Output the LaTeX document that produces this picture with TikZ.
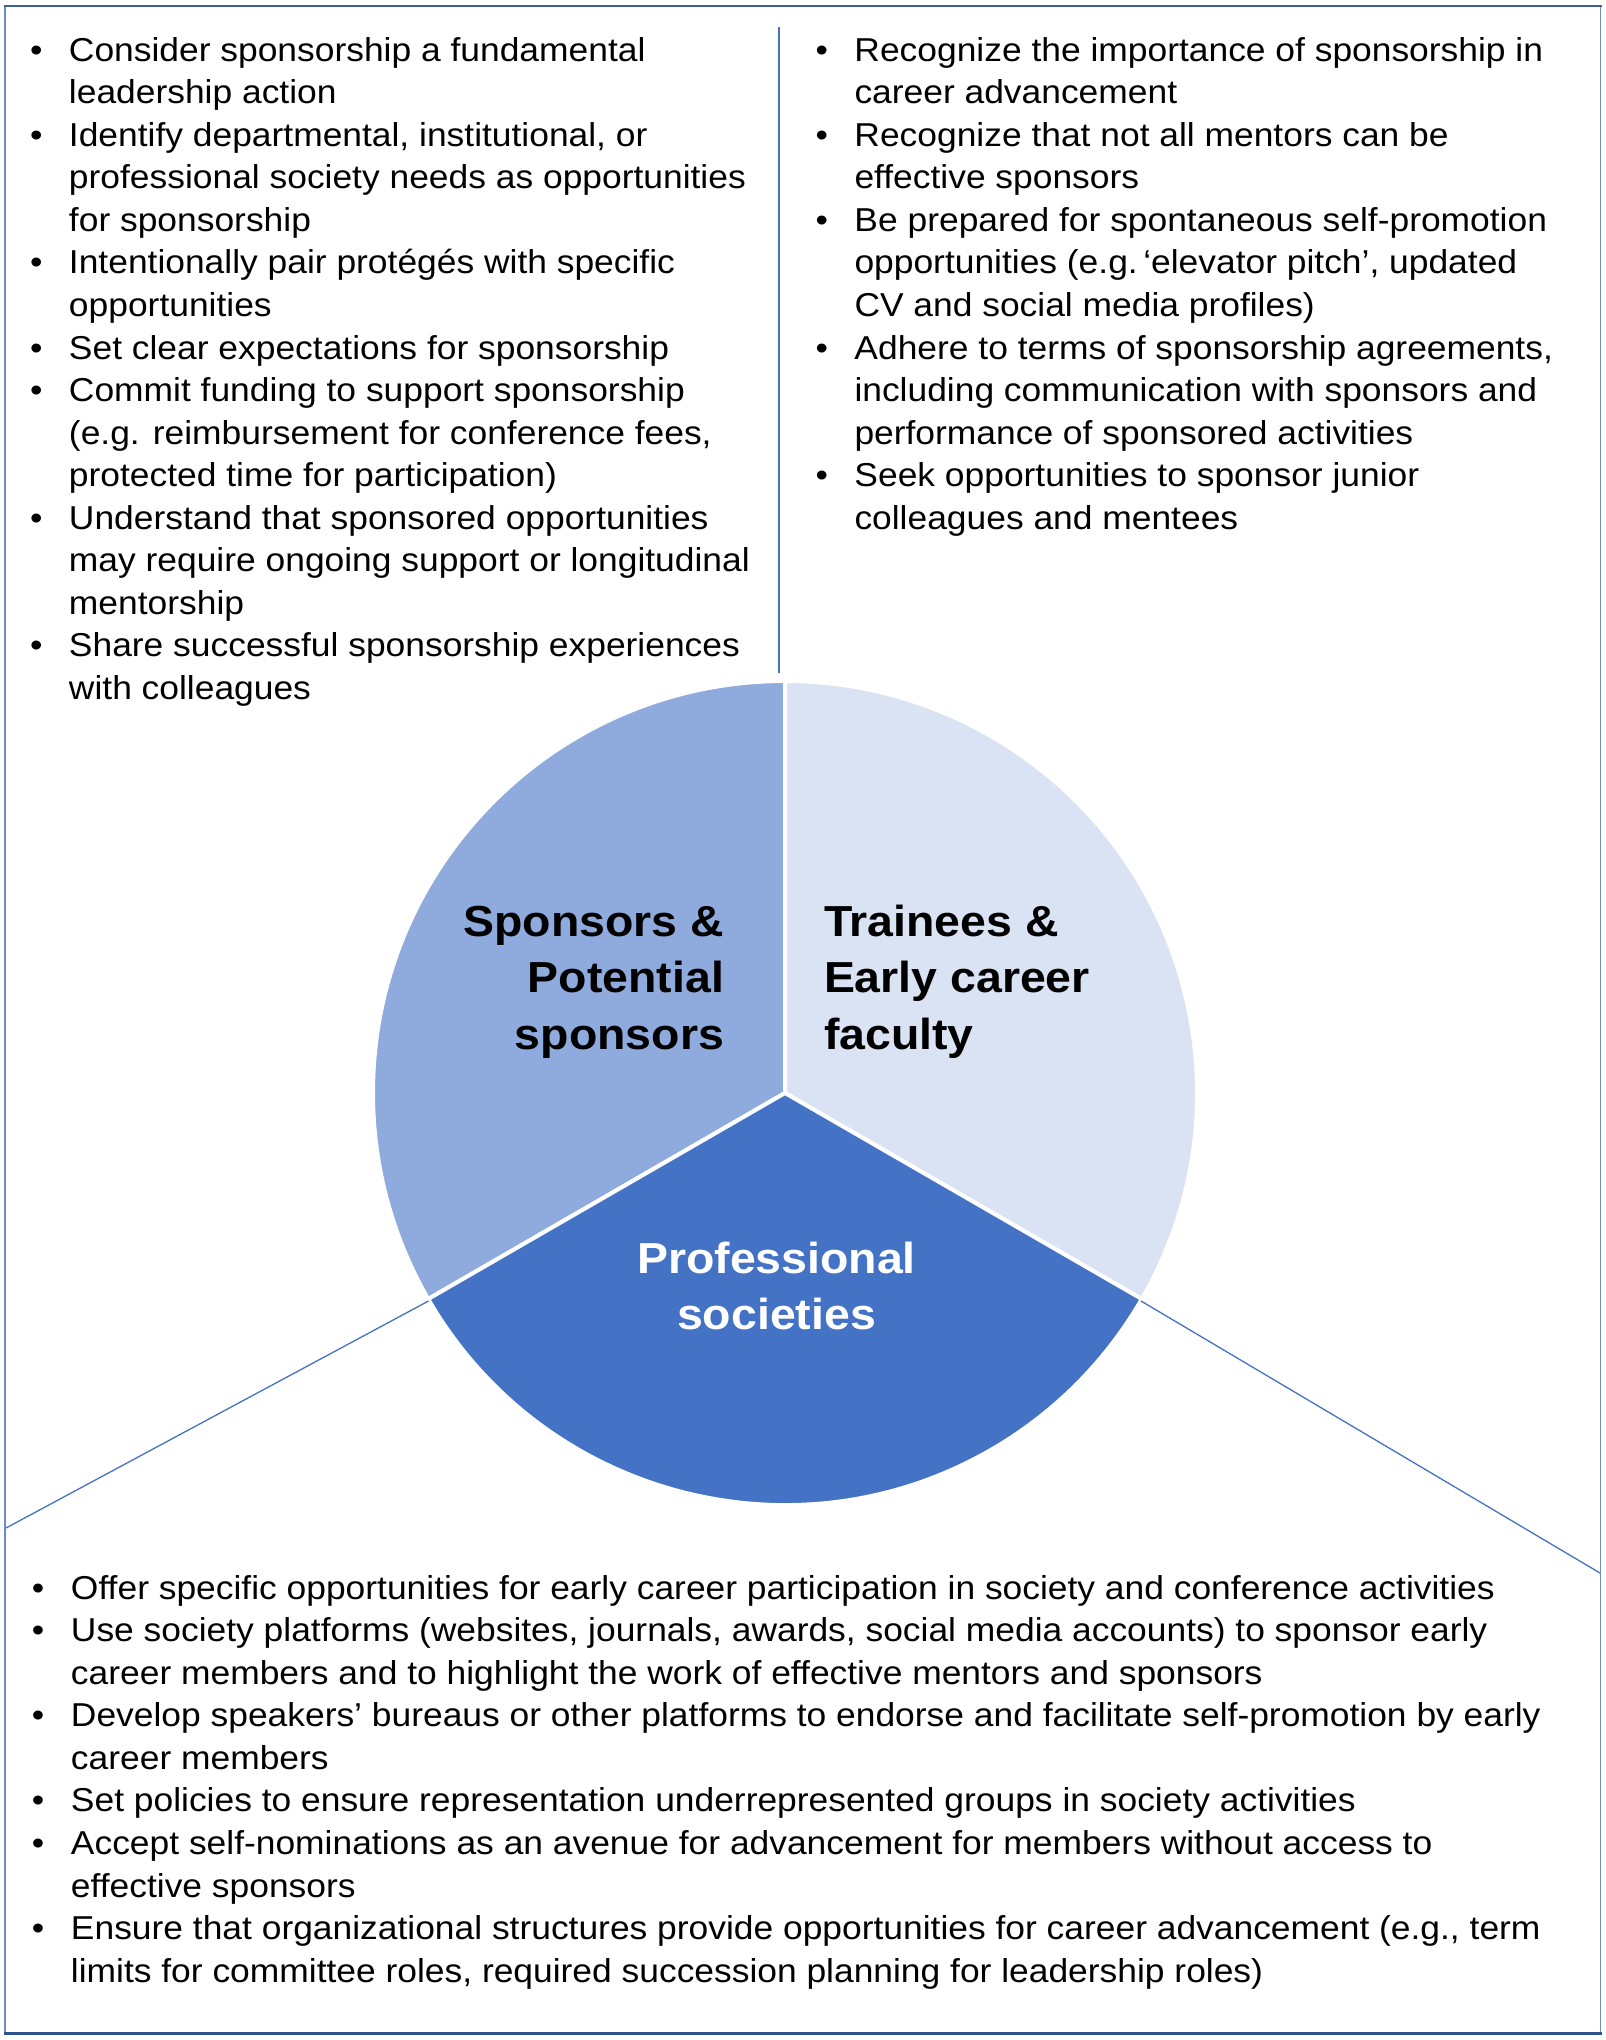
\documentclass[tikz,border=0pt]{standalone}
\usepackage{fontspec}
\setmainfont[FakeStretch=1.07]{Liberation Sans}
\definecolor{pieA}{HTML}{8FAADC}
\definecolor{pieB}{HTML}{DAE3F3}
\definecolor{pieC}{HTML}{4472C4}
\definecolor{lineblue}{HTML}{4472C4}
\definecolor{frameTop}{HTML}{3E5E9E}
\definecolor{frameSide}{HTML}{6C8CC8}
\definecolor{frameBot}{HTML}{2F528F}
\newcommand{\mybl}{\strut\makebox[19.5pt][l]{\textbullet}}
\newcommand{\myind}{\strut\makebox[19.5pt][l]{}}
\begin{document}
\begin{tikzpicture}[x=0.5pt,y=-0.5pt,
  txt/.style={anchor=north west, inner sep=0pt, outer sep=0pt, align=left,
    font=\fontsize{16.54}{21.26}\selectfont},
  lbl/.style={inner sep=0pt, outer sep=0pt, font=\fontsize{21.7}{28.3}\selectfont\bfseries},
  conn/.style={draw=lineblue, line width=0.65pt},
  slice/.style={draw=white, line width=2pt, line join=round}]
\useasboundingbox (0,0) rectangle (1606,2040);
\fill[white] (0,0) rectangle (1606,2040);

% pie
\coordinate (C) at (785,1093);
\filldraw[slice, fill=pieA] (C) -- ++(-90:412) arc[start angle=-90, end angle=-210, radius=412] -- cycle;
\filldraw[slice, fill=pieB] (C) -- ++(30:412) arc[start angle=30, end angle=-90, radius=412] -- cycle;
\filldraw[slice, fill=pieC] (C) -- ++(-210:412) arc[start angle=-210, end angle=-330, radius=412] -- cycle;

% connector lines
\coordinate (vt) at (779,27);
\coordinate (vb) at (779,673);
\coordinate (dl0) at (428.5,1301);
\coordinate (dl1) at (6,1528);
\coordinate (dr0) at (1141,1301);
\coordinate (dr1) at (1600,1573);
\draw[conn] (vt) -- (vb);
\draw[conn] (dl0) -- (dl1);
\draw[conn] (dr0) -- (dr1);

% frame
\draw[frameSide, line width=0.8pt] (5,5) -- (5,2034);
\draw[frameSide, line width=0.8pt] (1600.5,5) -- (1600.5,2034);
\draw[frameTop, line width=1pt] (4,5.5) -- (1601.5,5.5);
\draw[frameBot, line width=1.5pt] (4,2033) -- (1601.5,2033);

% pie labels
\node[lbl, anchor=north east, align=right] (spons) at (724,896.4)
  {\strut Sponsors \&\\\strut Potential\\\strut sponsors};
\node[lbl, anchor=north west, align=left] (train) at (824,896.4)
  {\strut Trainees \&\\\strut Early career\\\strut faculty};
\node[lbl, anchor=north, align=center, text=white] (prof) at (776.5,1233.4)
  {\strut Professional\\\strut societies};

% left column
\node[txt] (Ltxt) at (30,31.6) {%
\mybl Consider sponsorship a fundamental\\
\myind leadership action\\
\mybl Identify departmental, institutional, or\\
\myind professional society needs as opportunities\\
\myind for sponsorship\\
\mybl Intentionally pair protégés with specific\\
\myind opportunities\\
\mybl Set clear expectations for sponsorship\\
\mybl Commit funding to support sponsorship\\
\myind (e.g. reimbursement for conference fees,\\
\myind protected time for participation)\\
\mybl Understand that sponsored opportunities\\
\myind may require ongoing support or longitudinal\\
\myind mentorship\\
\mybl Share successful sponsorship experiences\\
\myind with colleagues};

% right column
\node[txt] (Rtxt) at (815.5,31.6) {%
\mybl Recognize the importance of sponsorship in\\
\myind career advancement\\
\mybl Recognize that not all mentors can be\\
\myind effective sponsors\\
\mybl Be prepared for spontaneous self-promotion\\
\myind opportunities (e.g.\,‘elevator pitch’, updated\\
\myind CV and social media profiles)\\
\mybl Adhere to terms of sponsorship agreements,\\
\myind including communication with sponsors and\\
\myind performance of sponsored activities\\
\mybl Seek opportunities to sponsor junior\\
\myind colleagues and mentees};

% bottom block
\node[txt] (Btxt) at (32,1569.6) {%
\mybl Offer specific opportunities for early career participation in society and conference activities\\
\mybl Use society platforms (websites, journals, awards, social media accounts) to sponsor early\\
\myind career members and to highlight the work of effective mentors and sponsors\\
\mybl Develop speakers’ bureaus or other platforms to endorse and facilitate self-promotion by early\\
\myind career members\\
\mybl Set policies to ensure representation underrepresented groups in society activities\\
\mybl Accept self-nominations as an avenue for advancement for members without access to\\
\myind effective sponsors\\
\mybl Ensure that organizational structures provide opportunities for career advancement (e.g., term\\
\myind limits for committee roles, required succession planning for leadership roles)};
\end{tikzpicture}
\end{document}
